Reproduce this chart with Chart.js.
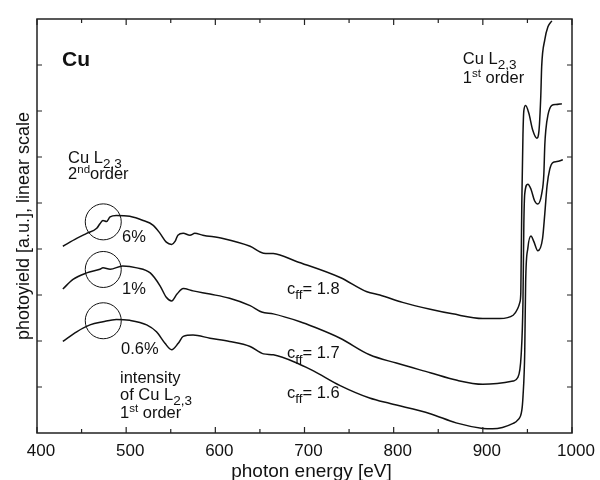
<!DOCTYPE html>
<html>
<head>
<meta charset="utf-8">
<title>Cu photoyield</title>
<script src="https://cdn.jsdelivr.net/npm/chart.js@4.4.1/dist/chart.umd.min.js"></script>
<style>
  html, body { margin: 0; padding: 0; background: #fff; }
  #wrap { width: 600px; height: 480px; }
</style>
</head>
<body>
<div id="wrap"><canvas id="yieldChart" width="600" height="480"></canvas></div>
<script>
// Photon energy [eV] and photoyield (a.u., curves offset) for the three cff settings
const energy18 = [429, 444.5, 455.7, 467, 470.6, 474, 478, 482, 489, 504, 519, 530, 538, 545, 551, 555, 558, 564, 571.5, 577, 586, 608.5, 639, 654, 665, 691, 740, 770, 784.5, 810, 841, 866, 900, 919, 934, 939, 941.5, 942.6, 943.7, 945, 946, 948, 951.6, 956, 960.5, 963, 965, 966, 969.5, 973, 977.4];
const yield18  = [4.06, 4.23, 4.34, 4.45, 4.55, 4.62, 4.60, 4.70, 4.73, 4.71, 4.62, 4.52, 4.34, 4.15, 4.10, 4.17, 4.30, 4.34, 4.30, 4.34, 4.30, 4.23, 4.06, 3.91, 3.90, 3.73, 3.38, 3.07, 3.00, 2.84, 2.69, 2.59, 2.49, 2.49, 2.56, 2.70, 2.84, 3.06, 4.98, 6.48, 7.01, 7.12, 6.95, 6.58, 6.41, 6.58, 7.33, 7.97, 8.55, 8.83, 8.96];

const energy17 = [429, 440.4, 455.7, 470.6, 474, 482, 496, 512, 527, 538, 545, 551, 557, 564, 575, 594, 616, 639, 652, 665, 695, 710, 740, 773, 803, 841, 870, 900, 934, 939, 943, 945, 946, 947, 950.5, 954, 958, 961.7, 966, 968.4, 969.5, 970.6, 973, 977.4, 982, 988.6];
const yield17  = [3.13, 3.34, 3.48, 3.56, 3.59, 3.56, 3.63, 3.59, 3.48, 3.20, 2.95, 2.87, 3.02, 3.14, 3.09, 3.02, 2.93, 2.77, 2.63, 2.59, 2.42, 2.31, 2.06, 1.70, 1.52, 1.31, 1.15, 1.06, 1.13, 1.20, 1.70, 2.84, 4.55, 5.20, 5.41, 5.30, 5.05, 4.98, 5.20, 5.62, 6.26, 6.58, 6.91, 7.12, 7.14, 7.16];

const energy16 = [429, 444.5, 459.4, 474, 489, 504, 523, 534, 543.5, 551, 558.4, 564, 575, 594, 616, 639, 654, 665, 695, 710, 740, 773, 796, 841, 870, 900, 911, 934, 939, 943.7, 945, 947, 948, 950.5, 954, 957, 961.7, 967, 969.5, 972, 975, 978.5, 983, 989.7];
const yield16  = [1.99, 2.20, 2.35, 2.42, 2.47, 2.45, 2.35, 2.20, 1.95, 1.81, 1.95, 2.10, 2.13, 2.06, 1.99, 1.88, 1.72, 1.70, 1.49, 1.35, 1.03, 0.76, 0.64, 0.42, 0.22, 0.10, 0.09, 0.21, 0.28, 0.49, 0.78, 1.77, 3.27, 4.02, 4.28, 4.17, 3.96, 4.23, 4.77, 5.37, 5.73, 5.88, 5.90, 5.94];

// Circled Cu L2,3 second-order features on each curve
const circleEnergy = [474.3, 474.3, 474.3];
const circleYield  = [4.59, 3.555, 2.44];

// Axis ticks
const xMajorTicks = [400, 500, 600, 700, 800, 900, 1000];
const xMinorTicks = [450, 550, 650, 750, 850, 950];
const yTicks = [1, 2, 3, 4, 5, 6, 7, 8];

const FONT = '"Liberation Sans", Arial, Helvetica, sans-serif';
const INK = '#111';

function toPoints(xs, ys) {
    return xs.map((x, i) => ({ x: x, y: ys[i] }));
}

function curve(xs, ys) {
    return {
        data: toPoints(xs, ys),
        showLine: true,
        borderColor: INK,
        borderWidth: 1.5,
        pointRadius: 0,
        cubicInterpolationMode: 'monotone',
        fill: false
    };
}

// Text placed in data coordinates; parts are [text, 'sub'|'sup'|undefined]
const notes = [
    { e: 428, v: 7.97, size: 21, weight: 'bold', parts: [['Cu']] },
    { e: 434.8, v: 5.88, parts: [['Cu L'], ['2,3', 'sub']] },
    { e: 434.8, v: 5.515, parts: [['2'], ['nd', 'sup'], ['order']] },
    { e: 877.6, v: 8.02, parts: [['Cu L'], ['2,3', 'sub']] },
    { e: 877.6, v: 7.61, parts: [['1'], ['st', 'sup'], [' order']] },
    { e: 495.3, v: 4.147, parts: [['6%']] },
    { e: 495.3, v: 3.014, parts: [['1%']] },
    { e: 494.2, v: 1.71, parts: [['0.6%']] },
    { e: 493.1, v: 1.08, parts: [['intensity']] },
    { e: 493.1, v: 0.716, parts: [['of Cu L'], ['2,3', 'sub']] },
    { e: 493.1, v: 0.32, parts: [['1'], ['st', 'sup'], [' order']] },
    { e: 680.3, v: 3.02, parts: [['c'], ['ff', 'sub'], ['= 1.8']] },
    { e: 680.3, v: 1.625, parts: [['c'], ['ff', 'sub'], ['= 1.7']] },
    { e: 680.3, v: 0.77, parts: [['c'], ['ff', 'sub'], ['= 1.6']] }
];

function drawParts(ctx, x, y, parts, size, weight) {
    let cx = x;
    parts.forEach(([text, kind]) => {
        let s = size, dy = 0;
        if (kind === 'sub') { s = size * 0.82; dy = size * 0.32; }
        if (kind === 'sup') { s = size * 0.7; dy = -size * 0.38; }
        ctx.font = (weight || 'normal') + ' ' + s + 'px ' + FONT;
        ctx.fillText(text, cx, y + dy);
        cx += ctx.measureText(text).width;
    });
}

const framePlugin = {
    id: 'frameAndLabels',
    afterDraw(chart) {
        const ctx = chart.ctx;
        const { left, right, top, bottom } = chart.chartArea;
        const xs = chart.scales.x, ys = chart.scales.y;
        ctx.save();

        // plot frame
        ctx.strokeStyle = '#222';
        ctx.lineWidth = 1.5;
        ctx.strokeRect(left, top, right - left, bottom - top);

        // inward tick marks
        ctx.lineWidth = 1.2;
        ctx.beginPath();
        const xTick = (v, len) => {
            const px = xs.getPixelForValue(v);
            ctx.moveTo(px, bottom); ctx.lineTo(px, bottom - len);
            ctx.moveTo(px, top); ctx.lineTo(px, top + len);
        };
        xMajorTicks.forEach(v => xTick(v, 6));
        xMinorTicks.forEach(v => xTick(v, 4));
        yTicks.forEach(v => {
            const py = ys.getPixelForValue(v);
            ctx.moveTo(left, py); ctx.lineTo(left + 5, py);
            ctx.moveTo(right, py); ctx.lineTo(right - 5, py);
        });
        ctx.stroke();

        // annotations
        ctx.fillStyle = INK;
        ctx.textBaseline = 'alphabetic';
        ctx.textAlign = 'left';
        notes.forEach(n => {
            drawParts(ctx, xs.getPixelForValue(n.e), ys.getPixelForValue(n.v), n.parts, n.size || 16.5, n.weight);
        });

        // axis titles
        ctx.textAlign = 'center';
        ctx.font = '19px ' + FONT;
        ctx.fillText('photon energy [eV]', 311.5, 476.5);
        ctx.save();
        ctx.translate(28.5, (top + bottom) / 2);
        ctx.rotate(-Math.PI / 2);
        ctx.font = '18px ' + FONT;
        ctx.fillText('photoyield [a.u.], linear scale', 0, 0);
        ctx.restore();

        ctx.restore();
    }
};

new Chart(document.getElementById('yieldChart'), {
    type: 'scatter',
    data: {
        datasets: [
            curve(energy18, yield18),
            curve(energy17, yield17),
            curve(energy16, yield16),
            {
                data: toPoints(circleEnergy, circleYield),
                showLine: false,
                pointRadius: 18,
                pointHoverRadius: 18,
                pointBorderWidth: 1,
                pointBorderColor: INK,
                pointBackgroundColor: 'rgba(0,0,0,0)'
            }
        ]
    },
    options: {
        responsive: false,
        animation: false,
        events: [],
        layout: { padding: { top: 12, right: 28, bottom: 0, left: 0 } },
        plugins: {
            legend: { display: false },
            tooltip: { enabled: false }
        },
        scales: {
            x: {
                type: 'linear',
                min: 400,
                max: 1000,
                afterFit: s => { s.height = 47; },
                afterBuildTicks: s => { s.ticks = xMajorTicks.map(v => ({ value: v })); },
                grid: { display: false, drawTicks: false },
                border: { display: false },
                ticks: {
                    padding: 8,
                    labelOffset: 4,
                    maxRotation: 0,
                    autoSkip: false,
                    color: INK,
                    font: { family: FONT, size: 17 },
                    callback: v => String(v)
                }
            },
            y: {
                type: 'linear',
                min: 0,
                max: 9,
                afterFit: s => { s.width = 37; },
                grid: { display: false, drawTicks: false },
                border: { display: false },
                ticks: { display: false }
            }
        }
    },
    plugins: [framePlugin]
});
</script>
</body>
</html>
